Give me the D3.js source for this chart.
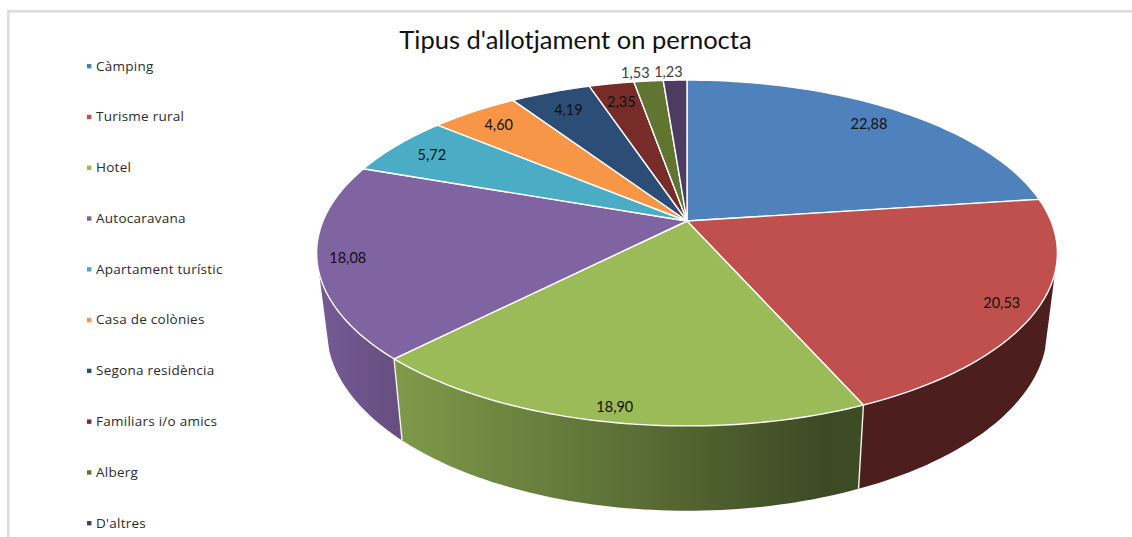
<!DOCTYPE html>
<html>
<head>
<meta charset="utf-8">
<script src="https://cdnjs.cloudflare.com/ajax/libs/d3/7.8.5/d3.min.js"></script>
<style>
html,body{margin:0;padding:0;background:#fff;overflow:hidden}
svg{display:block}
text{font-family:Lato,"Open Sans",sans-serif}
</style>
</head>
<body>
<svg id="c" width="1132" height="537"></svg>
<script>
const chartTitle = "Tipus d'allotjament on pernocta";
const categories = ["Càmping","Turisme rural","Hotel","Autocaravana","Apartament turístic","Casa de colònies","Segona residència","Familiars i/o amics","Alberg","D'altres"];
const values = [22.88,20.53,18.90,18.08,5.72,4.60,4.19,2.35,1.53,1.23];
const valueLabels = ["22,88","20,53","18,90","18,08","5,72","4,60","4,19","2,35","1,53","1,23"];
const palette = ["#4F81BD","#C0504D","#9BBB59","#8064A2","#4BACC6","#F79646","#2C4D75","#772C2A","#5F7530","#4D3B62"];

// label placement (not data): fraction of the radius, and sideways nudge
const labelReach = [0.87,0.91,0.935,0.92,0.875,0.87,0.85,0.85,1.07,1.07];
const labelNudge = [-4,0,1,0,1,0,0,0,-11,-6];

const svg = d3.select("#c");
const color = d3.scaleOrdinal(categories, palette);
const arcs = d3.pie().sort(null).value(d => d)(values);

// perspective projection of the disc: r = fraction of radius, a = clockwise angle from top
function projector(cx, cy, A, B, k){
  return (a, r=1) => {
    const u = r*Math.sin(a), v = -r*Math.cos(a), w = 1 - k*v;
    return [cx + A*u/w, cy + B*v/w];
  };
}
const top3d = projector(687,221,364,167,0.185);
const low3d = projector(687,296,354,175,0.185);
const deg = d3.scaleLinear().domain([0,360]).range([0,2*Math.PI]);
const line = d3.line();
const sampled = (a0,a1,f) => d3.range(0,61).map(i => f(a0+(a1-a0)*i/60));

// frame
const frame = svg.append("g").attr("fill","#dcdcdc");
frame.append("rect").attr("x",7).attr("y",10).attr("width",1125).attr("height",2.6);
frame.append("rect").attr("x",7).attr("y",10).attr("width",2.6).attr("height",527);

// gradients
const defs = svg.append("defs");
function grad(id,x1,x2,stops){
  const g = defs.append("linearGradient").attr("id",id).attr("gradientUnits","userSpaceOnUse")
    .attr("x1",x1).attr("x2",x2).attr("y1",0).attr("y2",0);
  stops.forEach(([o,c]) => g.append("stop").attr("offset",o).attr("stop-color",c));
}
grad("gGreen",394,858,[[0,"#7E9A49"],[0.45,"#5F7438"],[0.93,"#3C4A24"],[1,"#3E4C25"]]);
grad("gPurple",318,401,[[0,"#755A95"],[1,"#664E7F"]]);

// sides (visible wall only)
const sides = [
  {i:3, a0:arcs[3].startAngle, a1:deg(253), fill:"url(#gPurple)"},
  {i:1, a0:deg(107), a1:arcs[1].endAngle, fill:"#4C1F1E"},
  {i:2, a0:arcs[2].startAngle, a1:arcs[2].endAngle, fill:"url(#gGreen)"}
];
svg.append("g").selectAll("path").data(sides).join("path")
  .attr("d", s => line([...sampled(s.a0,s.a1,a=>top3d(a)), ...sampled(s.a1,s.a0,a=>low3d(a))])+"Z")
  .attr("fill", s => s.fill);
// wall seams
svg.append("g").selectAll("path").data([arcs[2].startAngle, arcs[2].endAngle]).join("path")
  .attr("d", a => line([top3d(a),low3d(a)]))
  .attr("stroke","#f2f2f2").attr("stroke-width",1.4).attr("fill","none");

// top slices
svg.append("g").selectAll("path").data(arcs).join("path")
  .attr("d", d => line([[687,221], ...sampled(d.startAngle,d.endAngle,a=>top3d(a))])+"Z")
  .attr("fill", (d,i) => color(categories[i]))
  .attr("stroke","#fff").attr("stroke-width",1.4).attr("stroke-linejoin","round");

// value labels
svg.append("g").selectAll("text").data(arcs).join("text")
  .attr("x",(d,i)=>top3d((d.startAngle+d.endAngle)/2,labelReach[i])[0]+labelNudge[i])
  .attr("y",(d,i)=>top3d((d.startAngle+d.endAngle)/2,labelReach[i])[1])
  .attr("text-anchor","middle").attr("dominant-baseline","central")
  .attr("font-size",14.5)
  .attr("fill",(d,i)=>labelReach[i]>1?"#404040":"#111")
  .text((d,i)=>valueLabels[i]);

// title
svg.append("text").attr("x",575.5).attr("y",48.5).attr("text-anchor","middle")
  .attr("font-size",25.5).attr("fill","#111").text(chartTitle);

// legend
const rowY = d3.scalePoint().domain(categories).range([66,523]);
const rows = svg.append("g").selectAll("g").data(categories).join("g")
  .attr("transform",d=>`translate(0,${rowY(d)})`);
rows.append("rect").attr("x",87).attr("y",-2).attr("width",4.4).attr("height",4.4).attr("fill",d=>color(d));
rows.append("text").attr("x",96).attr("y",-0.5).attr("dominant-baseline","central").attr("font-size",13.5)
  .style("font-family","'Open Sans',sans-serif").style("letter-spacing","0.25px")
  .attr("fill","#2b2b2b").text(d=>d);
</script>
</body>
</html>
